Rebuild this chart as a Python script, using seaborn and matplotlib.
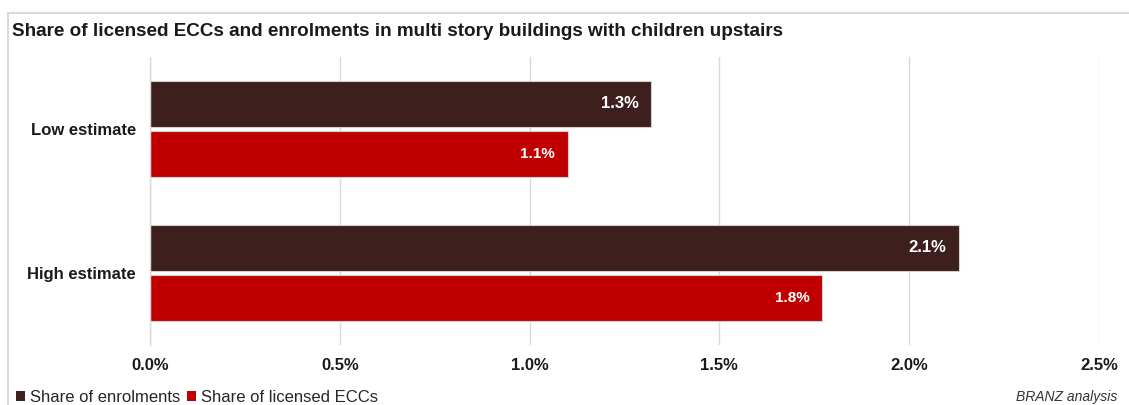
import matplotlib
matplotlib.use("Agg")
import matplotlib.pyplot as plt
from matplotlib.patches import Patch, Rectangle
from matplotlib.ticker import MultipleLocator, FuncFormatter
import seaborn as sns
import pandas as pd

# Estimates and series
estimates = ["Low estimate", "High estimate"]
series = ["Share of enrolments", "Share of licensed ECCs"]
enrolments = [1.32, 2.13]
licensed_eccs = [1.10, 1.77]
value_labels = {"Share of enrolments": ["1.3%", "2.1%"],
                "Share of licensed ECCs": ["1.1%", "1.8%"]}

colors = {"Share of enrolments": "#3D1F1D", "Share of licensed ECCs": "#C00000"}

df = pd.DataFrame({
    "estimate": estimates * 2,
    "series": [series[0]] * 2 + [series[1]] * 2,
    "share": enrolments + licensed_eccs,
})

sns.set_theme(style="white")
plt.rcParams["font.family"] = ["Liberation Sans", "DejaVu Sans"]

fig = plt.figure(figsize=(11.29, 4.05), dpi=100)
ax = fig.add_axes([150 / 1129, 1 - 345 / 405, (1099 - 150) / 1129, (345 - 57) / 405])

sns.barplot(data=df, y="estimate", x="share", hue="series", order=estimates,
            hue_order=series, palette=colors, saturation=1, orient="h",
            width=0.708, gap=0.098, edgecolor="#D0D0D0", linewidth=0.8,
            legend=False, ax=ax)

# Value labels inside the bar ends
for container, name in zip(ax.containers, series):
    size = 12 if name == series[0] else 11
    for patch, text in zip(container.patches, value_labels[name]):
        ax.annotate(text, (patch.get_width(), patch.get_y() + patch.get_height() / 2),
                    xytext=(-9, 0), textcoords="offset points", ha="right", va="center",
                    color="white", fontweight="bold", fontsize=size)

ax.set_xlim(0, 2.5)
ax.set_ylim(1.5, -0.5)
ax.xaxis.set_major_locator(MultipleLocator(0.5))
ax.xaxis.set_major_formatter(FuncFormatter(lambda v, _: f"{v:.1f}%"))
ax.grid(axis="x", color="#D9D9D9", linewidth=1)
ax.set_axisbelow(True)
ax.set_xlabel("")
ax.set_ylabel("")

for side in ["top", "right", "bottom"]:
    ax.spines[side].set_visible(False)
ax.spines["left"].set_color("#D9D9D9")
ax.spines["left"].set_linewidth(1)

ax.tick_params(axis="x", length=0, pad=9, labelsize=12, labelcolor="#1a1a1a")
ax.tick_params(axis="y", which="major", length=0, pad=10, labelsize=12, labelcolor="#1a1a1a")
ax.set_yticks([-0.5, 0.5, 1.5], minor=True)
ax.tick_params(axis="y", which="minor", length=6, color="#D9D9D9", width=1)
for lbl in ax.get_xticklabels() + ax.get_yticklabels():
    lbl.set_fontweight("bold")

# Chart frame and title
fig.patches.append(Rectangle((8 / 1129, -0.1), 1.2, 1 - 13 / 405 + 0.1,
                             transform=fig.transFigure, fill=False,
                             edgecolor="#D9D9D9", linewidth=1.5))
fig.text(12 / 1129, 1 - 32 / 405, "Share of licensed ECCs and enrolments in multi story buildings with children upstairs",
         fontsize=13.6, fontweight="bold", ha="left", va="center", color="#1a1a1a")

handles = [Patch(facecolor=colors[s], edgecolor="none") for s in series]
fig.legend(handles, series, loc="lower left", bbox_to_anchor=(9 / 1129, -7 / 405),
           ncol=2, frameon=False, fontsize=12, handlelength=0.55, handleheight=0.55,
           handletextpad=0.3, columnspacing=0.4, borderaxespad=0.0)

fig.text(1117 / 1129, 1 - 397 / 405, "BRANZ analysis", fontsize=10, fontstyle="italic",
         ha="right", va="center", color="#333333")

fig.savefig("out.png", dpi=100)
